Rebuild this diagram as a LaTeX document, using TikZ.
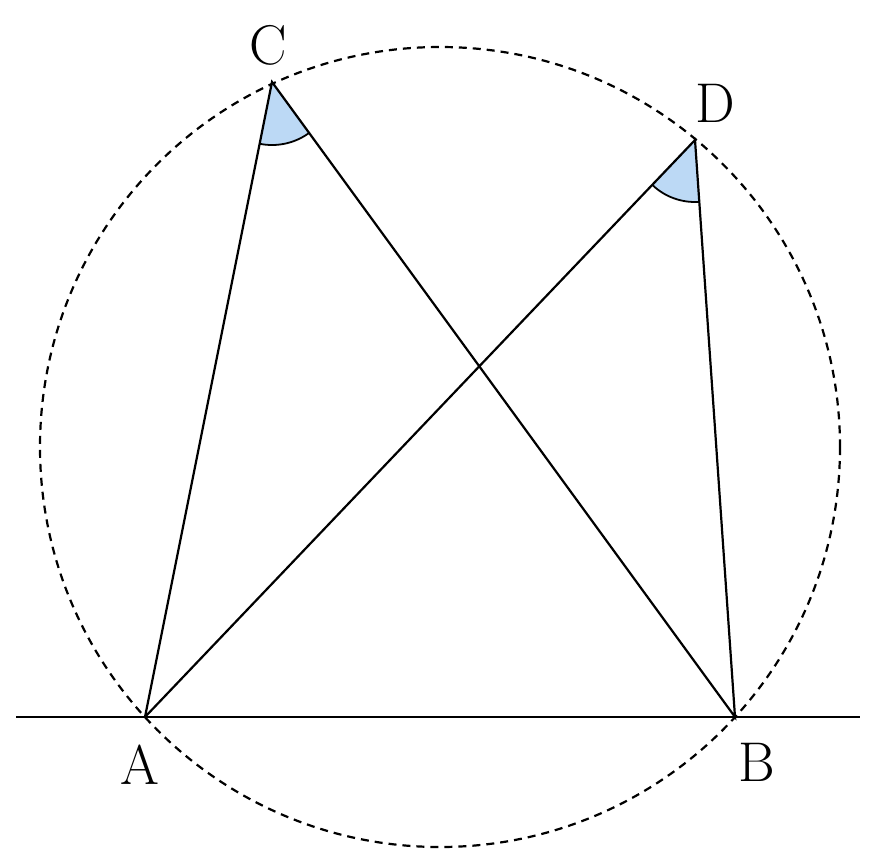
\documentclass[tikz,border=0pt]{standalone}
\usetikzlibrary{calc}
\begin{document}
\begin{tikzpicture}[x=1pt,y=-1pt,line width=2.2pt,
  lbl/.style={font=\fontsize{56}{60}\selectfont}]
\useasboundingbox (0,0) rectangle (880,863);
\coordinate (A) at (145,717);
\coordinate (B) at (735,717);
\coordinate (C) at (272,82);
\coordinate (D) at (695,140);
\coordinate (L) at (16,717);
\coordinate (R) at (860,717);
\coordinate (O) at (440,447);
\draw[dash pattern=on 8pt off 6pt] (O) circle (400);
\begin{scope}
\clip (C) -- (A) -- (B) -- cycle;
\path[fill={rgb,255:red,188;green,217;blue,245}] (C) circle (63);
\end{scope}
\begin{scope}
\clip (D) -- (A) -- (B) -- cycle;
\path[fill={rgb,255:red,188;green,217;blue,245}] (D) circle (62);
\end{scope}
\begin{scope}
\clip (C) -- ($(C)!2!(A)$) -- ($(C)!2!(B)$) -- cycle;
\draw[line width=1.8pt] (C) circle (63);
\end{scope}
\begin{scope}
\clip (D) -- ($(D)!2!(A)$) -- ($(D)!2!(B)$) -- cycle;
\draw[line width=1.8pt] (D) circle (62);
\end{scope}
\draw (L) -- (R);
\draw (A) -- (C) -- (B) -- (D) -- (A);
\node[lbl] (lc) at (268,45) {C};
\node[lbl] (ld) at (715,103) {D};
\node[lbl] (la) at (140,765) {A};
\node[lbl] (lb) at (757,762) {B};
\end{tikzpicture}
\end{document}
